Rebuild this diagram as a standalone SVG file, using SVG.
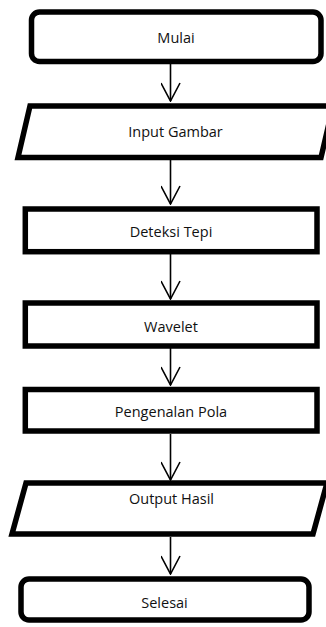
<svg xmlns="http://www.w3.org/2000/svg" width="326" height="627" viewBox="0 0 326 627">
<defs>
<style>
.n{fill:#fff;stroke:#000;stroke-width:5.5;stroke-linejoin:miter}
.t{font-family:"Open Sans","Noto Sans",sans-serif;font-size:14.5px;fill:#111;text-anchor:middle}
.c{stroke:#000;stroke-width:1.6;fill:none;marker-end:url(#ah)}
</style>
<marker id="ah" viewBox="0 0 20 20" markerWidth="20" markerHeight="20" refX="19" refY="10" orient="auto" markerUnits="userSpaceOnUse">
<path d="M1,0.5 L19,10 L1,19.5" fill="none" stroke="#000" stroke-width="1.6"/>
</marker>
</defs>
<rect width="326" height="627" fill="#fff"/>
<g id="connectors">
<line class="c" x1="170.5" y1="64" x2="170.5" y2="101"/>
<line class="c" x1="170.5" y1="160" x2="170.5" y2="204"/>
<line class="c" x1="170.5" y1="254" x2="170.5" y2="299"/>
<line class="c" x1="170.5" y1="348" x2="170.5" y2="385"/>
<line class="c" x1="170.5" y1="434" x2="170.5" y2="480"/>
<line class="c" x1="170.5" y1="537" x2="170.5" y2="574"/>
</g>
<g id="mulai">
<rect class="n" x="31.5" y="12" width="289.5" height="49.5" rx="8"/>
<text class="t" x="176" y="43">Mulai</text>
</g>
<g id="input-gambar">
<polygon class="n" points="30,106 333,106 321,157.5 18,157.5"/>
<text class="t" x="175.5" y="137">Input Gambar</text>
</g>
<g id="deteksi-tepi">
<rect class="n" x="25.3" y="209" width="291.7" height="42.7"/>
<text class="t" x="171" y="237">Deteksi Tepi</text>
</g>
<g id="wavelet">
<rect class="n" x="25.3" y="303" width="291.7" height="43"/>
<text class="t" x="171" y="331.5">Wavelet</text>
</g>
<g id="pengenalan-pola">
<rect class="n" x="25.3" y="389.5" width="291.7" height="41.5"/>
<text class="t" x="171" y="417">Pengenalan Pola</text>
</g>
<g id="output-hasil">
<polygon class="n" points="26,483 327,483 313,534 12,534"/>
<text class="t" x="171.5" y="504">Output Hasil</text>
</g>
<g id="selesai">
<rect class="n" x="21" y="579" width="288" height="41" rx="8"/>
<text class="t" x="164.5" y="608">Selesai</text>
</g>
</svg>
